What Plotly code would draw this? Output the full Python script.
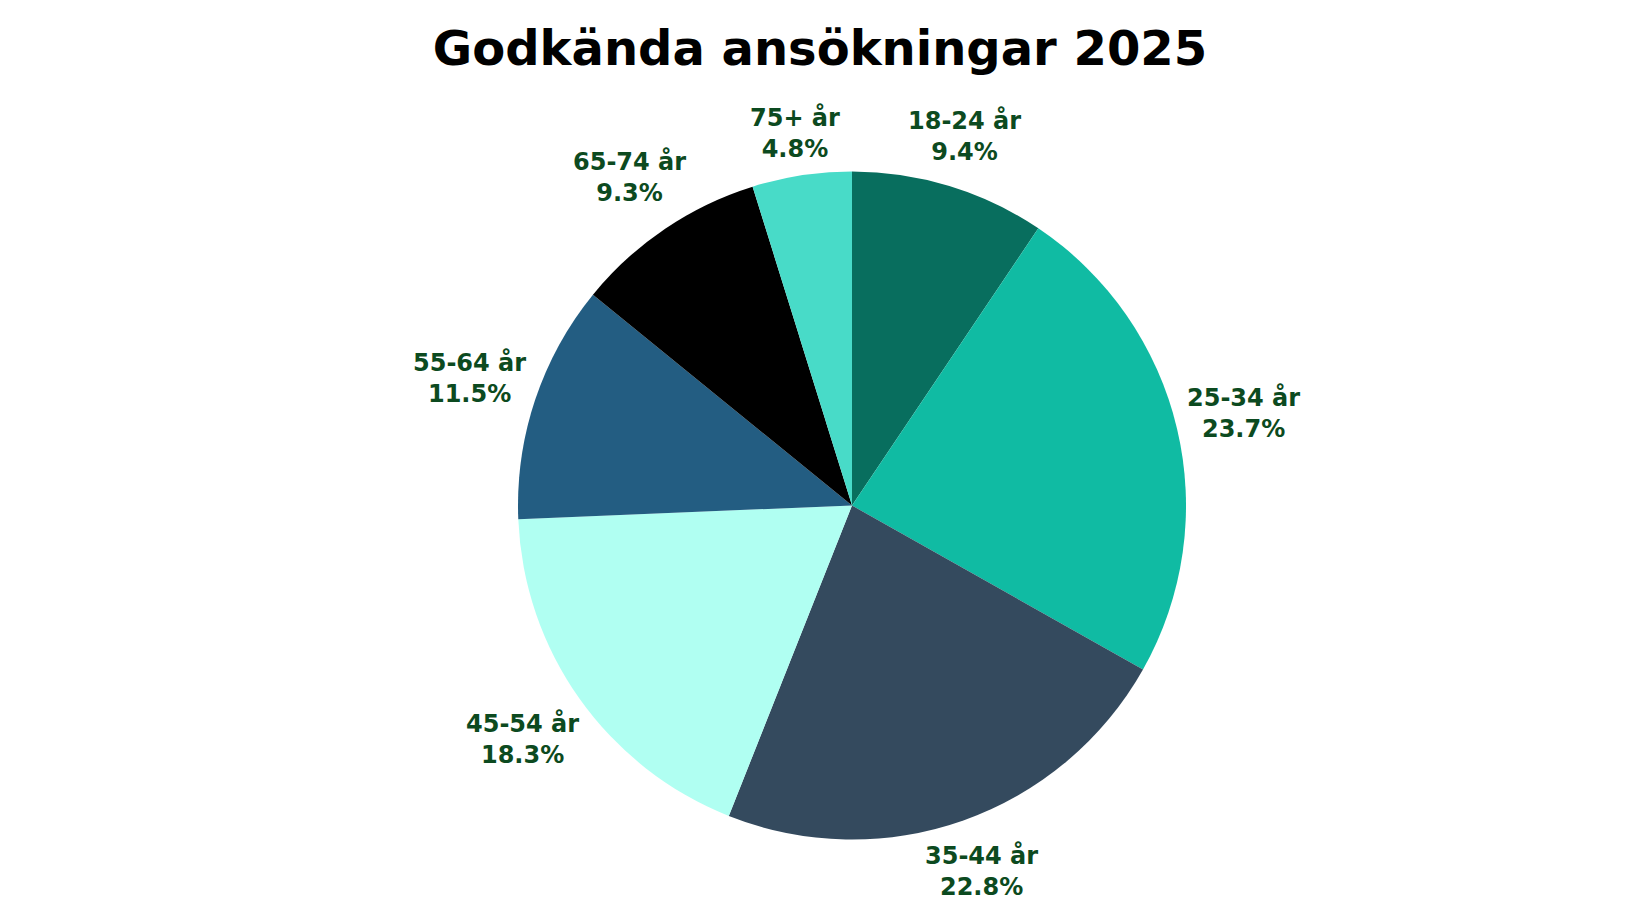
import math
import plotly.graph_objects as go

categories = ["18-24 år", "25-34 år", "35-44 år", "45-54 år", "55-64 år", "65-74 år", "75+ år"]
values = [9.4, 23.7, 22.8, 18.3, 11.5, 9.3, 4.8]
colors = ["#086e5e", "#10bba3", "#344a5e", "#b0fff2", "#235d82", "#000000", "#48dbc8"]

# layout geometry (pixels)
W, H = 1640, 924
CX, CY, R = 844, 497.5, 334      # pie centre and radius
LABEL_GAP = 7                    # gap between pie edge and label box
CHAR_W, BOX_H = 14, 60           # approx label box metrics
FONT = "DejaVu Sans, sans-serif"
LABEL_COLOR = "#0c4a20"

fig = go.Figure(go.Pie(
    labels=categories,
    values=values,
    marker=dict(colors=colors, line=dict(width=0)),
    sort=False,
    direction="clockwise",
    rotation=0,
    textinfo="none",
    hovertemplate="%{label}: %{value:.1f}%<extra></extra>",
    showlegend=False,
    domain=dict(x=[(CX - R) / W, (CX + R) / W],
                y=[(H - CY - R) / H, (H - CY + R) / H]),
))

# labels placed just outside each slice, along its mid-angle
total = sum(values)
cum = 0.0
annotations = []
for cat, v in zip(categories, values):
    mid = (cum + v / 2) / total * 2 * math.pi
    cum += v
    ux, uy = math.sin(mid), -math.cos(mid)
    w = CHAR_W * len(cat)
    dist = R + LABEL_GAP + abs(ux) * w / 2 + abs(uy) * BOX_H / 2
    px, py = CX + dist * ux, CY + dist * uy
    annotations.append(dict(
        text=f"{cat}<br>{v:.1f}%",
        x=px / W, y=1 - py / H, xref="paper", yref="paper",
        xanchor="center", yanchor="middle", showarrow=False,
        font=dict(family=FONT, size=24, color=LABEL_COLOR, weight=700),
    ))

fig.update_layout(
    width=W, height=H,
    paper_bgcolor="white", plot_bgcolor="white",
    showlegend=False,
    margin=dict(l=0, r=0, t=0, b=0),
    annotations=annotations,
    title=dict(
        text="Godkända ansökningar 2025",
        x=0.4951, xref="container", xanchor="center", y=0.956, yanchor="middle",
        font=dict(family=FONT, size=48, color="black", weight=700),
    ),
)

fig.write_html("out.html")
